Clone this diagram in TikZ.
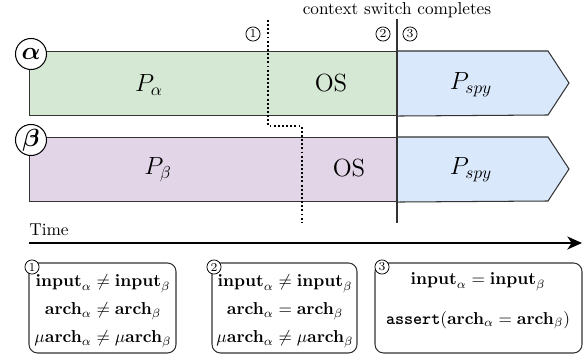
\documentclass[tikz,border=0pt]{standalone}
\usepackage{amsmath,amssymb}
\usetikzlibrary{arrows.meta}
\definecolor{greenfill}{HTML}{D5E8D4}
\definecolor{purplefill}{HTML}{E1D5E7}
\definecolor{bluefill}{HTML}{DAE8FC}
\definecolor{edgegray}{HTML}{333333}
\begin{document}
\begin{tikzpicture}[x=0.58pt,y=-0.58pt,
  lane/.style={draw=edgegray,line width=0.6pt,minimum height=37.12pt,minimum width=213.44pt,inner sep=0pt,anchor=north west},
  spyarrow/.style={draw=edgegray,line width=0.6pt,fill=bluefill},
  lbl/.style={font=\Large,inner sep=0pt},
  tag/.style={circle,draw=black,line width=0.6pt,fill=white,minimum size=18pt,inner sep=0pt,font=\Large\boldmath},
  num/.style={circle,draw=black,line width=0.45pt,fill=white,minimum size=8.2pt,inner sep=0pt,font=\scriptsize},
  infobox/.style={draw=edgegray,line width=0.6pt,rounded corners=5pt,minimum height=52.2pt,inner sep=0pt},
  infotext/.style={align=center,inner sep=0pt},
  switchline/.style={draw=edgegray,line width=0.6pt},
  dotline/.style={line width=1.1pt,dash pattern=on 1.1pt off 1.3pt},
  timearrow/.style={line width=1.2pt,-{Stealth[length=8.5pt,width=7.5pt,inset=2.5pt]}}
]
\useasboundingbox (0,0) rectangle (585,358);

% lanes
\node[lane,fill=greenfill] (laneA) at (29,51) {};
\node[lane,fill=purplefill] (laneB) at (29,137) {};
\draw[spyarrow] (laneA.north east) -- (548,51) -- (569,83) -- (548,115) -- (laneA.south east);
\draw[spyarrow] (laneB.north east) -- (548,137) -- (569,169) -- (548,201) -- (laneB.south east);

% lane labels
\node[lbl] (pa) at (149,85) {$P_\alpha$};
\node[lbl] (osa) at (331,83) {OS};
\node[lbl] (spya) at (471,85) {$P_{spy}$};
\node[lbl] (pb) at (158,170) {$P_\beta$};
\node[lbl] (osb) at (349,168) {OS};
\node[lbl] (spyb) at (471,170) {$P_{spy}$};

% context switch line
\coordinate (swtop) at (397,19);
\coordinate (swbot) at (397,223);
\draw[switchline] (swtop) -- (swbot);
\node[inner sep=0pt] (cs) at (397,10) {context switch completes};

% dotted line
\coordinate (d0) at (268,20);
\coordinate (d1) at (268,126);
\coordinate (d2) at (302,126);
\coordinate (d3) at (302,222);
\draw[dotline] (d0) -- (d1) -- (d2) -- (d3);

% process tags
\node[tag] (ta) at (31,54) {$\alpha$};
\node[tag] (tb) at (31,140) {$\beta$};

% step numbers on timeline
\node[num] (n1) at (253,34) {1};
\node[num] (n2) at (383,34) {2};
\node[num] (n3) at (410,34) {3};

% time axis
\node[anchor=west,inner sep=0pt] (time) at (29,230) {Time};
\coordinate (t0) at (29,243);
\coordinate (t1) at (582,243);
\draw[timearrow] (t0) -- (t1);

% info boxes
\node[infobox,minimum width=85.26pt] (b1) at (102.5,308) {};
\node[infobox,minimum width=84.1pt] (b2) at (284.5,308) {};
\node[infobox,minimum width=120.06pt] (b3) at (478.5,308) {};

\node[infotext] (b1t) at (103,311) {$\mathbf{input}_\alpha \neq \mathbf{input}_\beta$\\[4.5pt]
  $\mathbf{arch}_\alpha \neq \mathbf{arch}_\beta$\\[4.5pt]
  $\mu\mathbf{arch}_\alpha \neq \mu\mathbf{arch}_\beta$};
\node[infotext] (b2t) at (285,311) {$\mathbf{input}_\alpha \neq \mathbf{input}_\beta$\\[4.5pt]
  $\mathbf{arch}_\alpha = \mathbf{arch}_\beta$\\[4.5pt]
  $\mu\mathbf{arch}_\alpha \neq \mu\mathbf{arch}_\beta$};
\node[infotext] (b3t) at (478,301) {$\mathbf{input}_\alpha = \mathbf{input}_\beta$\\[11pt]
  \texttt{\textbf{assert}}($\mathbf{arch}_\alpha = \mathbf{arch}_\beta$)};

\node[num] (c1) at (32,267) {1};
\node[num] (c2) at (214,267) {2};
\node[num] (c3) at (382,267) {3};
\end{tikzpicture}
\end{document}
